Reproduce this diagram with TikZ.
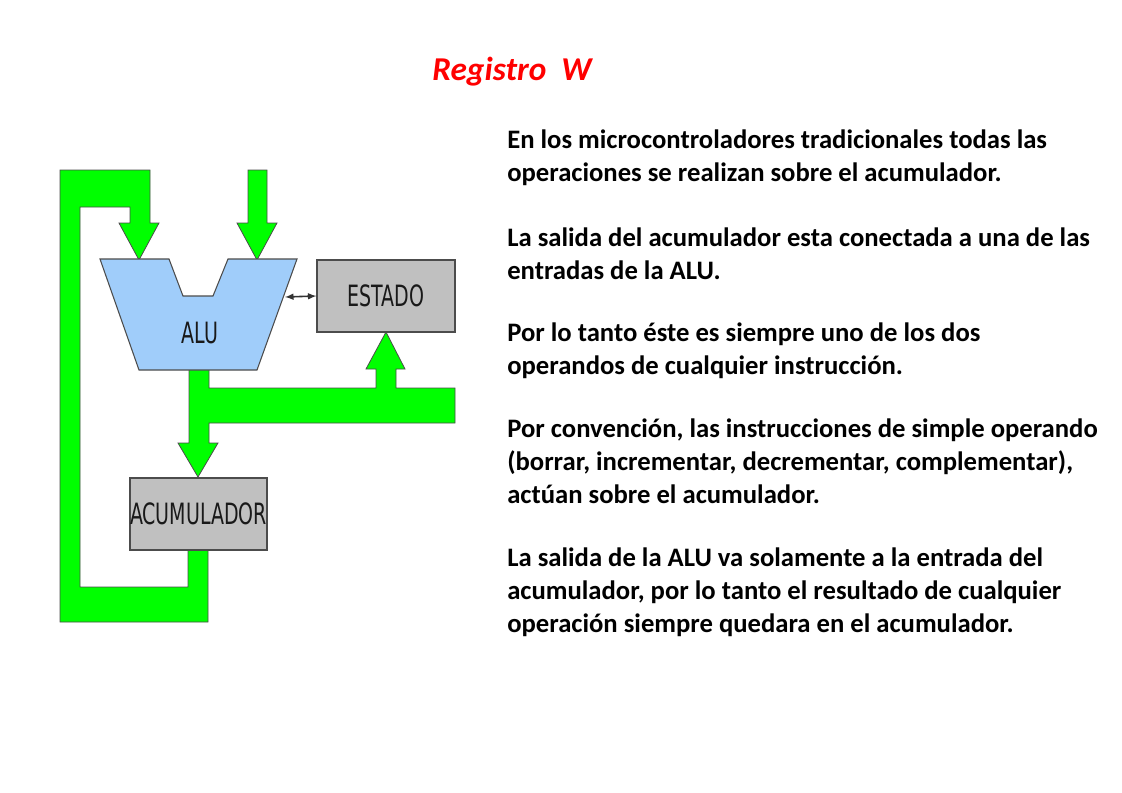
\documentclass[tikz,border=0pt]{standalone}
\usepackage{fontspec}
\setmainfont{Carlito}
\newfontfamily\boxfont{DejaVu Sans Condensed}
\definecolor{busgreen}{RGB}{0,255,0}
\definecolor{alublue}{RGB}{160,205,250}
\definecolor{boxgray}{RGB}{192,192,192}
\newcommand{\bxt}[1]{\scalebox{0.72}[1]{#1}}
\tikzset{
  bus/.style={fill=busgreen, draw=black!70, line width=0.6pt},
  unit/.style={fill=boxgray, draw=black!70, line width=0.8pt},
  para/.style={anchor=north west, align=left, font=\bfseries\fontsize{20}{24.4}\selectfont, inner sep=0pt},
  boxtxt/.style={font=\boxfont\fontsize{22}{24}\selectfont, text=black!90}
}
\begin{document}
\begin{tikzpicture}[x=0.75pt,y=-0.75pt]
\useasboundingbox (0,0) rectangle (1122,793);
% left feedback loop
\draw[bus] (60,170) -- (150,170) -- (150,223) -- (159,223) -- (139,260) -- (119,223) -- (130,223) -- (130,207) -- (80,207) -- (80,587) -- (188,587) -- (188,550) -- (208,550) -- (208,622) -- (60,622) -- cycle;
% second input
\draw[bus] (248,170) -- (267,170) -- (267,223) -- (277,223) -- (257,260) -- (237,223) -- (248,223) -- cycle;
% output bus
\draw[bus] (189,369) -- (209,369) -- (209,388) -- (376,388) -- (376,369) -- (366,369) -- (386,332) -- (405,369) -- (396,369) -- (396,388) -- (455,388) -- (455,423) -- (209,423) -- (209,443) -- (218,443) -- (198,477) -- (178,443) -- (189,443) -- cycle;
% ALU
\draw[fill=alublue, draw=black!70, line width=0.8pt] (100,259) -- (169,259) -- (183,296) -- (213,296) -- (228,259) -- (297,259) -- (257,370) -- (139,370) -- cycle;
\node[boxtxt] (alu) at (200,333) {\bxt{ALU}};
\coordinate (aluR) at (285,297);
% ESTADO
\node[unit, boxtxt, minimum width=103.5pt, minimum height=54pt, inner sep=0pt] (estado) at (386,296) {\bxt{ESTADO}};
\draw[<->, >=latex, line width=1.2pt, black!80] (aluR) -- (estado.west);
% ACUMULADOR
\node[unit, boxtxt, minimum width=102.75pt, minimum height=54pt, inner sep=0pt] (acum) at (198.5,514) {\bxt{ACUMULADOR}};
% title
\node[text=red, font=\bfseries\itshape\fontsize{25}{28}\selectfont] (title) at (512,72) {Registro\ \ W};
% paragraphs
\node[para] (p1) at (507,130) {En los microcontroladores tradicionales todas las\\operaciones se realizan sobre el acumulador.};
\node[para] (p2) at (507,228) {La salida del acumulador esta conectada a una de las\\entradas de la ALU.};
\node[para] (p3) at (507,323) {Por lo tanto éste es siempre uno de los dos\\operandos de cualquier instrucción.};
\node[para] (p4) at (507,419) {Por convención, las instrucciones de simple operando\\(borrar, incrementar, decrementar, complementar),\\actúan sobre el acumulador.};
\node[para] (p5) at (507,548) {La salida de la ALU va solamente a la entrada del\\acumulador, por lo tanto el resultado de cualquier\\operación siempre quedara en el acumulador.};
\end{tikzpicture}
\end{document}
